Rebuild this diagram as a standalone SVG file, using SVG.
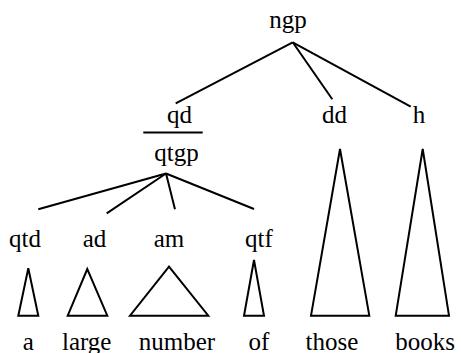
<svg xmlns="http://www.w3.org/2000/svg" width="461" height="353" viewBox="0 0 461 353">
<style>
.t{font-family:'Liberation Serif','Times New Roman','DejaVu Serif',serif;font-size:25px;fill:#000;text-anchor:middle}
.s{stroke:#000;stroke-width:2;fill:none}
</style>
<rect width="461" height="353" fill="#fff"/>
<g id="connectors" class="s">
<line x1="292.7" y1="42.3" x2="175.7" y2="103.3"/>
<line x1="292.7" y1="42.3" x2="332.3" y2="99.3"/>
<line x1="292.7" y1="42.3" x2="410.7" y2="106.7"/>
<line x1="143.3" y1="132.5" x2="202.7" y2="132.5"/>
<line x1="166" y1="173.5" x2="38.3" y2="209.3"/>
<line x1="166" y1="173.5" x2="106.7" y2="213.3"/>
<line x1="166" y1="173.5" x2="175" y2="209.3"/>
<line x1="166" y1="173.5" x2="254" y2="209"/>
</g>
<g id="ngp"><text class="t" x="288" y="28">ngp</text></g>
<g id="qd"><text class="t" x="179.5" y="123">qd</text></g>
<g id="dd"><text class="t" x="334.5" y="123">dd</text></g>
<g id="h"><text class="t" x="419" y="123">h</text></g>
<g id="qtgp"><text class="t" x="176.5" y="161">qtgp</text></g>
<g id="qtd"><text class="t" x="25" y="246.5">qtd</text></g>
<g id="ad"><text class="t" x="94.5" y="246.5">ad</text></g>
<g id="am"><text class="t" x="169" y="246.5">am</text></g>
<g id="qtf"><text class="t" x="259" y="246.5">qtf</text></g>
<g id="tri-a"><polygon class="s" points="28.3,268.3 18.3,315.7 38.3,315.7"/><text class="t" x="28.3" y="350">a</text></g>
<g id="tri-large"><polygon class="s" points="87.3,269 67.7,315.7 107.3,315.7"/><text class="t" x="86.7" y="350">large</text></g>
<g id="tri-number"><polygon class="s" points="169,266.7 130,315.7 208.3,315.7"/><text class="t" x="177" y="350">number</text></g>
<g id="tri-of"><polygon class="s" points="254,260 244,315.7 264,315.7"/><text class="t" x="259" y="350">of</text></g>
<g id="tri-those"><polygon class="s" points="340,149 311,315.7 369.3,315.7"/><text class="t" x="332" y="350">those</text></g>
<g id="tri-books"><polygon class="s" points="422.7,149 395.7,315.7 449,315.7"/><text class="t" x="425" y="350">books</text></g>
</svg>
